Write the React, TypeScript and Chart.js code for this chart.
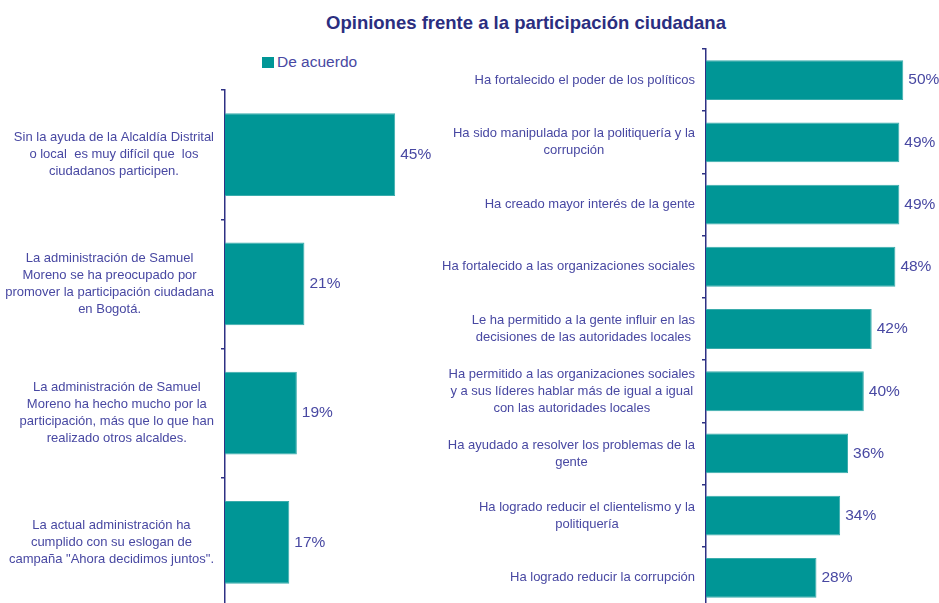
import React, { useEffect, useRef } from "react";
import { Chart, registerables } from "chart.js";

Chart.register(...registerables);

const TITLE = "Opiniones frente a la participación ciudadana";
const SERIES_NAME = "De acuerdo";

const leftCategories: string[][] = [
  ["Sin la ayuda de la Alcaldía Distrital", "o local  es muy difícil que  los", "ciudadanos participen."],
  ["La administración de Samuel", "Moreno se ha preocupado por", "promover la participación ciudadana", "en Bogotá."],
  ["La administración de Samuel", "Moreno ha hecho mucho por la", "participación, más que lo que han", "realizado otros alcaldes."],
  ["La actual administración ha", "cumplido con su eslogan de", "campaña \"Ahora decidimos juntos\"."],
];
const leftValues = [45, 21, 19, 17];

const rightCategories: string[][] = [
  ["Ha fortalecido el poder de los políticos"],
  ["Ha sido manipulada por la politiquería y la", "corrupción"],
  ["Ha creado mayor interés de la gente"],
  ["Ha fortalecido a las organizaciones sociales"],
  ["Le ha permitido a la gente influir en las", "decisiones de las autoridades locales"],
  ["Ha permitido a las organizaciones sociales", "y a sus líderes hablar más de igual a igual", "con las autoridades locales"],
  ["Ha ayudado a resolver los problemas de la", "gente"],
  ["Ha logrado reducir el clientelismo y la", "politiquería"],
  ["Ha logrado reducir la corrupción"],
];
const rightValues = [50, 49, 49, 48, 42, 40, 36, 34, 28];

const X_MAX = 55;

const BAR = "#009696";
const AXIS = "#2e3184";
const TEXT = "#4848a2";
const TITLE_COLOR = "#2b2e80";
const FONT = "'Liberation Sans', Arial, Helvetica, sans-serif";

const blockLabels = {
  id: "blockLabels",
  afterDraw(chart: any) {
    const { ctx, chartArea } = chart;
    const yScale = chart.scales.y;
    const labels = chart.data.labels as string[][];
    ctx.save();
    ctx.font = `13px ${FONT}`;
    ctx.fillStyle = TEXT;
    ctx.textAlign = "center";
    ctx.textBaseline = "middle";
    labels.forEach((lines, i) => {
      const cy = yScale.getPixelForValue(i);
      const w = Math.max(...lines.map((l) => ctx.measureText(l).width));
      const cx = chartArea.left - 11 - w / 2;
      const lh = 17;
      lines.forEach((l, j) => {
        ctx.fillText(l, cx, cy + (j - (lines.length - 1) / 2) * lh);
      });
    });
    ctx.font = `15.5px ${FONT}`;
    ctx.textAlign = "left";
    const meta = chart.getDatasetMeta(0);
    meta.data.forEach((bar: any, i: number) => {
      const v = chart.data.datasets[0].data[i];
      ctx.fillText(`${v}%`, bar.x + 5, bar.y);
    });
    ctx.restore();
  },
};

function makeConfig(
  labels: string[][],
  values: number[],
  axisWidth: number,
  padding: { top: number; bottom: number; right: number }
): any {
  return {
    type: "bar",
    data: {
      labels,
      datasets: [
        {
          label: SERIES_NAME,
          data: values,
          backgroundColor: BAR,
          borderColor: "#3aacac",
          borderWidth: 1,
          borderSkipped: "left",
          barPercentage: 0.64,
          categoryPercentage: 1,
        },
      ],
    },
    options: {
      indexAxis: "y",
      animation: false,
      responsive: false,
      maintainAspectRatio: false,
      layout: { padding: { top: padding.top, bottom: padding.bottom, right: padding.right, left: 0 } },
      plugins: {
        legend: { display: false },
        title: { display: false },
        tooltip: { enabled: false },
      },
      scales: {
        x: { display: false, min: 0, max: X_MAX },
        y: {
          ticks: { display: false },
          grid: {
            display: true,
            drawOnChartArea: false,
            drawTicks: true,
            tickLength: 4,
            color: AXIS,
            lineWidth: 1.5,
            offset: true,
          },
          border: { display: true, color: AXIS, width: 1.5 },
          afterFit: (s: any) => {
            s.width = axisWidth;
          },
        },
      },
    },
    plugins: [blockLabels],
  };
}

function BarPanel(props: {
  labels: string[][];
  values: number[];
  left: number;
  width: number;
  height: number;
  axisWidth: number;
  padding: { top: number; bottom: number; right: number };
}) {
  const ref = useRef<HTMLCanvasElement | null>(null);
  useEffect(() => {
    if (!ref.current) return;
    const chart = new Chart(ref.current, makeConfig(props.labels, props.values, props.axisWidth, props.padding));
    return () => chart.destroy();
  }, []);
  return (
    <canvas
      ref={ref}
      width={props.width}
      height={props.height}
      style={{ position: "absolute", left: props.left, top: 0, width: props.width, height: props.height, display: "block" }}
    />
  );
}

export default function App() {
  return (
    <div
      style={{
        position: "fixed",
        left: 0,
        top: 0,
        width: 939,
        height: 603,
        overflow: "hidden",
        background: "#ffffff",
        fontFamily: FONT,
      }}
    >
      <div
        style={{
          position: "absolute",
          top: 11,
          left: 113,
          width: 826,
          textAlign: "center",
          fontWeight: "bold",
          fontSize: 18.5,
          lineHeight: "24px",
          color: TITLE_COLOR,
        }}
      >
        {TITLE}
      </div>
      <div style={{ position: "absolute", top: 52, left: 262, height: 20, display: "flex", alignItems: "center" }}>
        <span style={{ display: "inline-block", width: 12, height: 11, background: BAR, marginRight: 3 }} />
        <span style={{ fontSize: 15.5, color: TEXT }}>{SERIES_NAME}</span>
      </div>
      <BarPanel
        labels={leftCategories}
        values={leftValues}
        left={0}
        width={440}
        height={610}
        axisWidth={225}
        padding={{ top: 90, bottom: 3, right: 7 }}
      />
      <BarPanel
        labels={rightCategories}
        values={rightValues}
        left={430}
        width={509}
        height={612}
        axisWidth={276}
        padding={{ top: 49, bottom: 3, right: 16 }}
      />
    </div>
  );
}
